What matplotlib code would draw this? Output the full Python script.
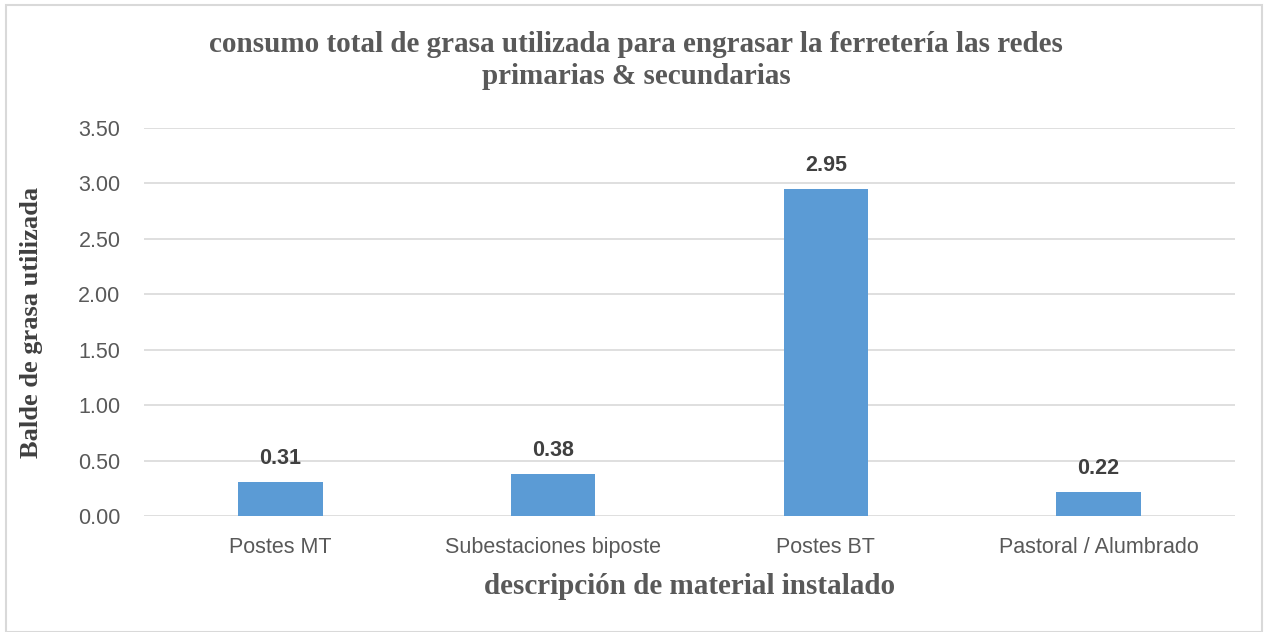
import matplotlib.pyplot as plt
from matplotlib.patches import Rectangle

categorias = ["Postes MT", "Subestaciones biposte", "Postes BT", "Pastoral / Alumbrado"]
valores = [0.31, 0.38, 2.95, 0.22]
yticks = [0.0, 0.5, 1.0, 1.5, 2.0, 2.5, 3.0, 3.5]

SERIF = ["Liberation Serif", "DejaVu Serif"]
SANS = ["Liberation Sans", "DejaVu Sans"]


def main():
    fig = plt.figure(figsize=(12.64, 6.32), dpi=100)
    W, H = 1264, 632
    # plot area in pixels: x 144..1235, y 128..516
    ax = fig.add_axes([144 / W, 1 - 516 / H, (1235 - 144) / W, (516 - 128) / H])

    x = range(len(categorias))
    ax.bar(x, valores, width=0.31, color="#5b9bd5", zorder=3)
    for xi, v in zip(x, valores):
        ax.annotate(f"{v:.2f}", (xi, v), xytext=(0, 9), textcoords="offset points",
                    ha="center", va="bottom", fontsize=15.5, fontweight="bold",
                    color="#404040", family=SANS)

    ax.set_xlim(-0.5, len(categorias) - 0.5)
    ax.set_ylim(0, 3.5)
    ax.set_yticks(yticks)
    ax.set_yticklabels([f"{t:.2f}" for t in yticks], family=SANS, fontsize=15.5, color="#595959")
    ax.set_xticks(list(x))
    ax.set_xticklabels(categorias, family=SANS, fontsize=15.5, color="#595959")
    ax.tick_params(length=0)
    ax.tick_params(axis="y", pad=17)
    ax.tick_params(axis="x", pad=15)
    ax.yaxis.grid(True, color="#d9d9d9", linewidth=1.2, zorder=0)
    for s in ax.spines.values():
        s.set_visible(False)

    fig.text(636 / W, 1 - 45 / H, "consumo total de grasa utilizada para engrasar la ferretería las redes",
             ha="center", va="center", family=SERIF, fontweight="bold", fontsize=21, color="#595959")
    fig.text(636 / W, 1 - 77 / H, "primarias & secundarias",
             ha="center", va="center", family=SERIF, fontweight="bold", fontsize=21, color="#595959")
    fig.text(690 / W, 1 - 587 / H, "descripción de material instalado",
             ha="center", va="center", family=SERIF, fontweight="bold", fontsize=21, color="#595959")
    fig.text(32 / W, 1 - 322 / H, "Balde de grasa utilizada", rotation=90,
             ha="center", va="center", family=SERIF, fontweight="bold", fontsize=19, color="#404040")

    fig.patches.append(Rectangle((6 / W, 0.5 / H), (1262 - 6) / W, (627 - 0.5) / H,
                                 transform=fig.transFigure, fill=False,
                                 edgecolor="#d9d9d9", linewidth=1.5))

    fig.savefig("out.png", dpi=100)
    plt.close(fig)


if __name__ == "__main__":
    main()
